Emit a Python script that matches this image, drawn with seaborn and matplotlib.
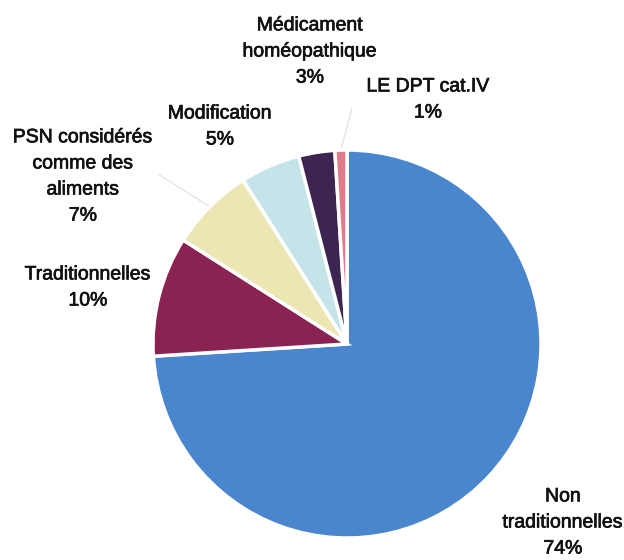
import numpy as np
import matplotlib
matplotlib.use("Agg")
import matplotlib.pyplot as plt
import matplotlib.patheffects as pe
import seaborn as sns
from matplotlib import font_manager

# Data
categories = [
    "Non\ntraditionnelles",
    "Traditionnelles",
    "PSN considérés\ncomme des\naliments",
    "Modification",
    "Médicament\nhoméopathique",
    "LE DPT cat.IV",
]
shares = [74, 10, 7, 5, 3, 1]

# Style
sns.set_theme(style="white")
names = {f.name for f in font_manager.fontManager.ttflist}
narrow = "Liberation Sans Narrow" in names
plt.rcParams["font.family"] = (["Liberation Sans Narrow"] if narrow else []) + ["Liberation Sans", "DejaVu Sans"]

colors = ["#4A86CE", "#8A2352", "#ECE6B2", "#C4E4EA", "#3E2450", "#E07C89"]
explode = [0.03, 0, 0, 0, 0, 0]
# label block centres, pixels from top-left
label_pos = [(563, 523), (88, 288), (83, 177), (220, 127), (310, 52), (428, 100)]
# end points of the faint leader lines (index -> pixel point)
leaders = {2: (158, 174), 5: (352, 108)}

W, H = 624, 560
cx, cy, R = 347, H - 344, 194

fig = plt.figure(figsize=(W / 100, H / 100), dpi=100)
ax = fig.add_axes([0, 0, 1, 1])

wedges, _ = ax.pie(
    shares,
    colors=colors,
    explode=explode,
    startangle=90,
    counterclock=False,
    center=(cx, cy),
    radius=R,
    wedgeprops=dict(edgecolor="white", linewidth=2.5),
)

ax.set_xlim(0, W)
ax.set_ylim(0, H)
ax.set_aspect("equal")
ax.axis("off")

fs = 17.5 if narrow else 14
for cat, share, (lx, ly) in zip(categories, shares, label_pos):
    ax.text(lx, H - ly, f"{cat}\n{share}%", ha="center", va="center",
            fontsize=fs, color="#111111", linespacing=1.7,
            path_effects=[pe.withStroke(linewidth=0.5, foreground="#111111")])

# faint leader lines from wedge edge to label
for i, (ex, ey) in leaders.items():
    w = wedges[i]
    mid = np.deg2rad((w.theta1 + w.theta2) / 2)
    sx, sy = cx + R * np.cos(mid), cy + R * np.sin(mid)
    ax.plot([sx, ex], [sy, H - ey], color="#E2E2E2", lw=0.9, zorder=0)

fig.savefig("out.png", dpi=100)
